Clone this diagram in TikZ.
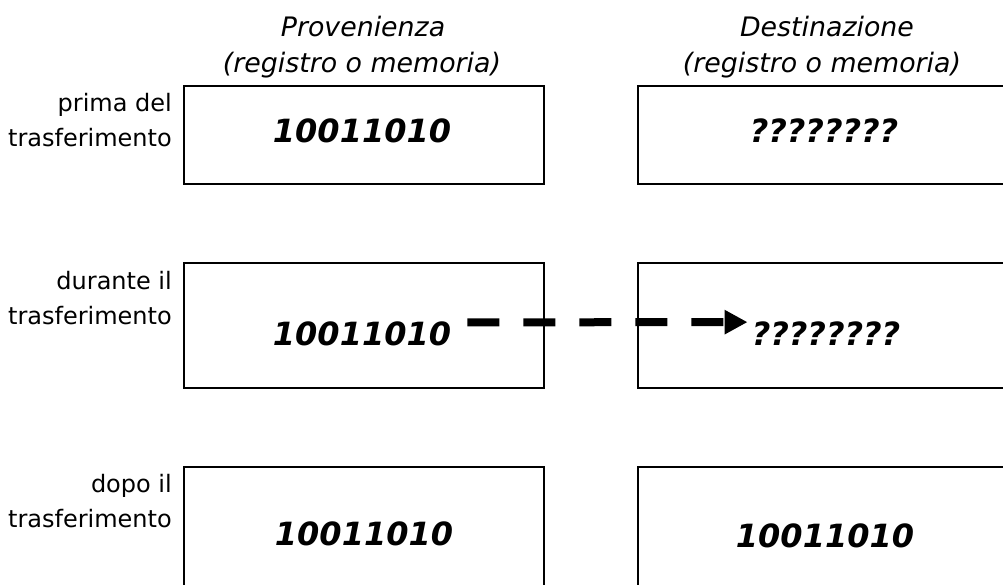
\documentclass[tikz,border=0pt]{standalone}
\usepackage{fontspec}
\setmainfont{DejaVu Sans}[
  BoldFont={DejaVu Sans Bold},
  ItalicFont={DejaVu Sans Oblique},
  BoldItalicFont={DejaVu Sans Bold Oblique}]
\usetikzlibrary{arrows.meta}

\tikzset{
  cell/.style={draw, line width=2pt, anchor=north west, inner sep=0pt},
  value/.style={font=\fontsize{32}{38}\selectfont\bfseries\itshape, anchor=base, inner sep=0pt},
  rowlabel/.style={font=\fontsize{24}{30}\selectfont, anchor=base east, inner sep=0pt},
  header/.style={font=\fontsize{26.8}{32}\selectfont\itshape, anchor=base, inner sep=0pt},
  movearrow/.style={line width=8pt, dash pattern=on 32pt off 24pt,
    -{Triangle[length=23pt, width=23pt]}}
}

\begin{document}
\begin{tikzpicture}[x=1pt, y=-1pt]
  \useasboundingbox (0,0) rectangle (1003,585);
  \clip (0,0) rectangle (1003,585);

  % column headers
  \node[header] (hsrcA) at (363,37) {Provenienza};
  \node[header] (hsrcB) at (362,73) {(registro o memoria)};
  \node[header] (hdstA) at (827,37) {Destinazione};
  \node[header] (hdstB) at (822,73) {(registro o memoria)};

  % cells: source column and destination column, three moments
  \node[cell, minimum width=360pt, minimum height=98pt]  (src1) at (183,85)  {};
  \node[cell, minimum width=380pt, minimum height=98pt]  (dst1) at (637,85)  {};
  \node[cell, minimum width=360pt, minimum height=125pt] (src2) at (183,262) {};
  \node[cell, minimum width=380pt, minimum height=125pt] (dst2) at (637,262) {};
  \node[cell, minimum width=360pt, minimum height=140pt] (src3) at (183,466) {};
  \node[cell, minimum width=380pt, minimum height=140pt] (dst3) at (637,466) {};

  % row labels
  \node[rowlabel] (l1a) at (172,112) {prima del};
  \node[rowlabel] (l1b) at (172,147) {trasferimento};
  \node[rowlabel] (l2a) at (172,289) {durante il};
  \node[rowlabel] (l2b) at (172,324) {trasferimento};
  \node[rowlabel] (l3a) at (172,492) {dopo il};
  \node[rowlabel] (l3b) at (172,527) {trasferimento};

  % cell contents
  \node[value] (v1s) at (362,143) {10011010};
  \node[value] (v1d) at (824,143) {????????};
  \node[value] (v2s) at (362,345) {10011010};
  \node[value] (v2d) at (826,345) {????????};
  \node[value] (v3s) at (364,545) {10011010};
  \node[value] (v3d) at (825,547) {10011010};

  % the value travelling from source to destination
  \draw[movearrow] ([shift={(16,-11)}]v2s.east) -- ([shift={(-4,-11)}]v2d.west);
\end{tikzpicture}
\end{document}
